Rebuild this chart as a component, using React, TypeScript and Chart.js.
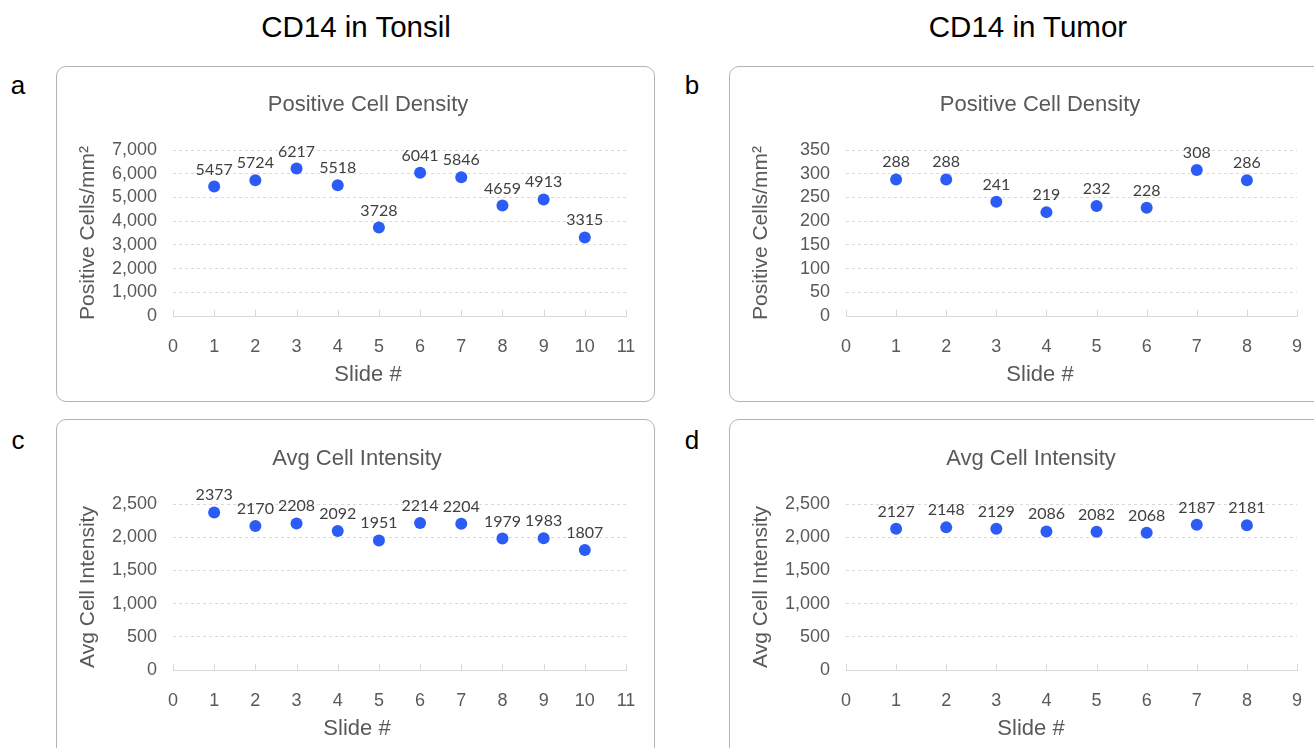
import React, { useEffect, useRef } from "react";
import { Chart, registerables } from "chart.js";

Chart.register(...registerables);

// ---------- data ----------
const tonsilSlides = [1, 2, 3, 4, 5, 6, 7, 8, 9, 10];
const tumorSlides = [1, 2, 3, 4, 5, 6, 7, 8];

const tonsilDensity = [5457, 5724, 6217, 5518, 3728, 6041, 5846, 4659, 4913, 3315];
const tumorDensity = [288, 288, 241, 219, 232, 228, 308, 286];
const tonsilIntensity = [2373, 2170, 2208, 2092, 1951, 2214, 2204, 1979, 1983, 1807];
const tumorIntensity = [2127, 2148, 2129, 2086, 2082, 2068, 2187, 2181];

const tonsilXMax = 11;
const tumorXMax = 9;
const densityTonsilYTicks = [0, 1000, 2000, 3000, 4000, 5000, 6000, 7000];
const densityTumorYTicks = [0, 50, 100, 150, 200, 250, 300, 350];
const intensityYTicks = [0, 500, 1000, 1500, 2000, 2500];

const columnHeaders = ["CD14 in Tonsil", "CD14 in Tumor"];
const panelLetters = ["a", "b", "c", "d"];
const densityTitle = "Positive Cell Density";
const intensityTitle = "Avg Cell Intensity";
const densityAxisTitle = "Positive Cells/mm²";
const intensityAxisTitle = "Avg Cell Intensity";
const xAxisTitle = "Slide #";

// ---------- styles ----------
const BLUE = "rgb(43, 92, 246)";
const GRAY_TEXT = "#595959";
const LABEL_TEXT = "#404040";
const GRID = "#d9d9d9";
const ARIAL = "'Liberation Sans', Arial, sans-serif";

const xTickMarks = {
  id: "xTickMarks",
  beforeDatasetsDraw(chart: any) {
    const s = chart.scales.x;
    const ctx = chart.ctx;
    const bottom = chart.chartArea.bottom;
    ctx.save();
    ctx.strokeStyle = GRID;
    ctx.lineWidth = 1;
    s.ticks.forEach((t: any) => {
      const px = Math.round(s.getPixelForValue(t.value)) + 0.5;
      ctx.beginPath();
      ctx.moveTo(px, bottom);
      ctx.lineTo(px, bottom - 6);
      ctx.stroke();
    });
    ctx.restore();
  },
};

const pointLabels = {
  id: "pointLabels",
  afterDatasetsDraw(chart: any) {
    const ctx = chart.ctx;
    const meta = chart.getDatasetMeta(0);
    const ds = chart.data.datasets[0];
    ctx.save();
    ctx.font = "16px Lato, 'Open Sans', sans-serif";
    ctx.fillStyle = LABEL_TEXT;
    ctx.textAlign = "center";
    ctx.textBaseline = "alphabetic";
    meta.data.forEach((el: any, i: number) => {
      ctx.fillText(String(ds.data[i].y), el.x, el.y - 12);
    });
    ctx.restore();
  },
};

type PanelProps = {
  canvasLeft: number;
  canvasTop: number;
  centerX: number;
  plotLeft: number;
  plotRight: number;
  yTitleX: number;
  xs: number[];
  ys: number[];
  xMax: number;
  yTicks: number[];
  title: string;
  yTitle: string;
};

function Panel(p: PanelProps) {
  const ref = useRef<HTMLCanvasElement | null>(null);
  const width = 2 * (p.centerX - p.canvasLeft);
  const height = 336;

  useEffect(() => {
    if (!ref.current) return;
    const yWidth = p.plotLeft - p.canvasLeft;
    const rightWidth = p.canvasLeft + width - p.plotRight;
    const yTitlePad = p.yTitleX - p.canvasLeft - 12.6;
    const yMax = p.yTicks[p.yTicks.length - 1];
    const yStep = p.yTicks[1] - p.yTicks[0];
    const chart = new Chart(ref.current, {
      type: "scatter",
      data: {
        datasets: [
          {
            data: p.xs.map((x, i) => ({ x, y: p.ys[i] })),
            backgroundColor: BLUE,
            borderColor: BLUE,
            pointRadius: 6,
            pointHoverRadius: 6,
            borderWidth: 0,
            yAxisID: "y",
          },
        ],
      },
      options: {
        animation: false,
        responsive: false,
        maintainAspectRatio: false,
        events: [],
        layout: { padding: 0 },
        plugins: {
          legend: { display: false },
          tooltip: { enabled: false },
          title: {
            display: true,
            text: p.title,
            color: GRAY_TEXT,
            font: { family: ARIAL, size: 22, weight: "normal", lineHeight: 1.2 },
            padding: { top: 24, bottom: 31.6 },
          },
          subtitle: {
            display: true,
            position: "bottom",
            text: xAxisTitle,
            color: GRAY_TEXT,
            font: { family: ARIAL, size: 22, weight: "normal", lineHeight: 1.2 },
            padding: { top: 0, bottom: 16 },
          },
        },
        scales: {
          x: {
            type: "linear",
            min: 0,
            max: p.xMax,
            afterFit: (s: any) => {
              s.height = 45.6;
              s.paddingLeft = 0;
              s.paddingRight = 0;
            },
            grid: { display: false, drawTicks: false },
            border: { display: true, color: GRID, width: 1 },
            ticks: {
              stepSize: 1,
              autoSkip: false,
              maxRotation: 0,
              color: GRAY_TEXT,
              font: { family: ARIAL, size: 18 },
              padding: 20,
            },
          },
          y: {
            type: "linear",
            position: "left",
            min: 0,
            max: yMax,
            afterFit: (s: any) => {
              s.width = yWidth;
            },
            grid: {
              drawTicks: false,
              lineWidth: 1,
              color: (c: any) => (c.tick && c.tick.value === 0 ? "rgba(0,0,0,0)" : GRID),
            },
            border: { display: false, dash: [3, 3] },
            ticks: {
              stepSize: yStep,
              autoSkip: false,
              color: GRAY_TEXT,
              font: { family: ARIAL, size: 18 },
              padding: 16,
              callback: (v: any) => Number(v).toLocaleString("en-US"),
            },
            title: {
              display: true,
              text: p.yTitle,
              color: GRAY_TEXT,
              font: { family: ARIAL, size: 21, weight: "normal", lineHeight: 1.2 },
              padding: { top: yTitlePad, bottom: 0 },
            },
          },
          // empty right-hand margin so the full-width title centres like the original
          rightMargin: {
            type: "linear",
            position: "right",
            display: true,
            grid: { display: false, drawTicks: false },
            border: { display: false },
            ticks: { display: false },
            afterFit: (s: any) => {
              s.width = rightWidth;
              s.paddingTop = 0;
              s.paddingBottom = 0;
            },
          },
        },
      } as any,
      plugins: [xTickMarks, pointLabels],
    });
    return () => chart.destroy();
  }, []);

  return (
    <canvas
      ref={ref}
      width={width}
      height={height}
      style={{
        position: "absolute",
        left: p.canvasLeft,
        top: p.canvasTop,
        width,
        height,
      }}
    />
  );
}

const boxStyle = (left: number, top: number, w: number, h: number): React.CSSProperties => ({
  position: "absolute",
  left,
  top,
  width: w,
  height: h,
  boxSizing: "border-box",
  border: "1px solid #b3b3b3",
  borderRadius: 10,
  background: "#fff",
});

const letterStyle = (cx: number, cy: number): React.CSSProperties => ({
  position: "absolute",
  left: cx - 20,
  top: cy - 16,
  width: 40,
  lineHeight: "32px",
  textAlign: "center",
  fontFamily: ARIAL,
  fontSize: 26,
  color: "#000",
});

const headerStyle = (cx: number): React.CSSProperties => ({
  position: "absolute",
  left: cx - 200,
  top: 9,
  width: 400,
  lineHeight: "36px",
  textAlign: "center",
  fontFamily: ARIAL,
  fontSize: 29.5,
  color: "#000",
});

export default function App() {
  return (
    <div
      style={{
        position: "fixed",
        left: 0,
        top: 0,
        width: 1314,
        height: 748,
        overflow: "hidden",
        background: "#fff",
      }}
    >
      <div style={headerStyle(356)}>{columnHeaders[0]}</div>
      <div style={headerStyle(1028)}>{columnHeaders[1]}</div>

      <div style={letterStyle(18, 85)}>{panelLetters[0]}</div>
      <div style={letterStyle(692, 85)}>{panelLetters[1]}</div>
      <div style={letterStyle(18, 440)}>{panelLetters[2]}</div>
      <div style={letterStyle(692, 440)}>{panelLetters[3]}</div>

      <div style={boxStyle(56, 66, 599, 336)} />
      <div style={boxStyle(729, 66, 700, 336)} />
      <div style={boxStyle(56, 419, 599, 400)} />
      <div style={boxStyle(729, 419, 700, 400)} />

      <Panel
        canvasLeft={66}
        canvasTop={68}
        centerX={368}
        plotLeft={173}
        plotRight={626}
        yTitleX={88}
        xs={tonsilSlides}
        ys={tonsilDensity}
        xMax={tonsilXMax}
        yTicks={densityTonsilYTicks}
        title={densityTitle}
        yTitle={densityAxisTitle}
      />
      <Panel
        canvasLeft={739}
        canvasTop={68}
        centerX={1040}
        plotLeft={846}
        plotRight={1297}
        yTitleX={761}
        xs={tumorSlides}
        ys={tumorDensity}
        xMax={tumorXMax}
        yTicks={densityTumorYTicks}
        title={densityTitle}
        yTitle={densityAxisTitle}
      />
      <Panel
        canvasLeft={66}
        canvasTop={422}
        centerX={357}
        plotLeft={173}
        plotRight={626}
        yTitleX={88}
        xs={tonsilSlides}
        ys={tonsilIntensity}
        xMax={tonsilXMax}
        yTicks={intensityYTicks}
        title={intensityTitle}
        yTitle={intensityAxisTitle}
      />
      <Panel
        canvasLeft={739}
        canvasTop={422}
        centerX={1031}
        plotLeft={846}
        plotRight={1297}
        yTitleX={761}
        xs={tumorSlides}
        ys={tumorIntensity}
        xMax={tumorXMax}
        yTicks={intensityYTicks}
        title={intensityTitle}
        yTitle={intensityAxisTitle}
      />
    </div>
  );
}
